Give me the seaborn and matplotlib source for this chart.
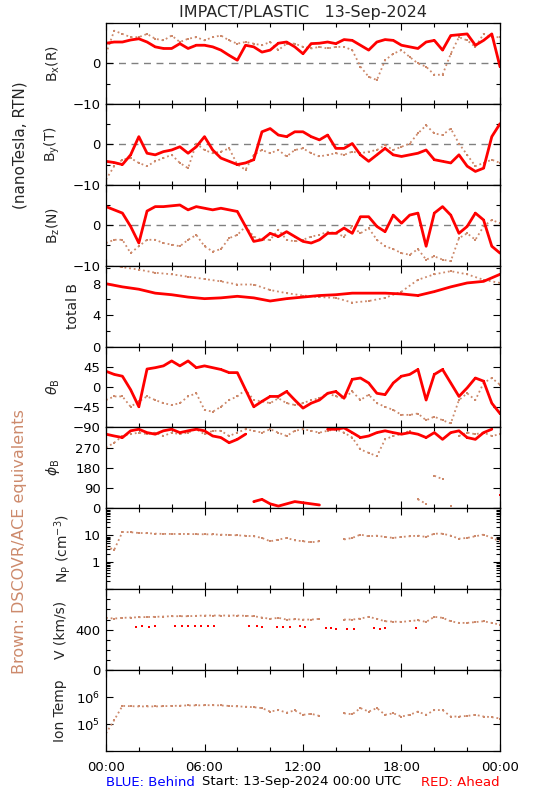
import numpy as np
import pandas as pd
import matplotlib.pyplot as plt
import matplotlib.ticker as mticker
import seaborn as sns

# IMPACT/PLASTIC summary, 13-Sep-2024 (STEREO-A red, DSCOVR/ACE brown)

RED = "#ff0000"
BROWN = "#cd8a6c"

# half-hour time grid (hours since 00:00 UTC)
hours = np.arange(0, 24.5, 0.5)
hours_1h = np.arange(0, 25, 1)

bx_red = [5.0, 5.3, 5.3, 5.8, 6.1, 5.3, 4.1, 3.7, 3.7, 4.9, 3.7, 4.5, 4.5, 4.1, 3.3, 2.0, 0.8,
          4.5, 4.1, 2.8, 3.3, 5.0, 5.3, 4.1, 2.4, 4.9, 5.0, 5.3, 4.9, 5.9, 5.7, 4.5, 3.3, 5.3,
          5.9, 5.7, 4.5, 4.1, 3.7, 5.3, 5.7, 3.3, 6.9, 7.1, 7.3, 4.5, 5.7, 7.3, -0.8]
bx_brown = [2.4, 8.1, 7.3, 6.5, 6.5, 7.3, 6.1, 5.7, 6.9, 5.3, 6.1, 6.5, 5.7, 6.5, 6.9, 5.7, 4.9,
            5.3, 4.9, 4.5, 5.3, 3.3, 4.9, 4.9, 4.1, 3.7, 4.1, 3.7, 4.1, 4.1, 3.3, -0.8, -3.3,
            -4.1, 0.8, 2.4, 3.3, 1.6, 0.0, -0.8, -2.8, -2.8, 2.4, 6.5, 5.7, 4.1, 7.3, 6.5, 6.5]

by_red = [-4.2, -4.5, -5.0, -2.6, 1.9, -2.2, -2.6, -1.8, -1.4, -0.6, -2.2, -0.6, 1.9, -1.4,
          -3.4, -4.2, -5.0, -4.6, -3.8, 3.1, 3.9, 2.3, 1.9, 3.1, 3.1, 1.9, 1.1, 2.3, -1.0, -1.0,
          0.2, -2.6, -4.2, -2.6, -1.0, -2.6, -3.0, -2.6, -2.2, -1.4, -3.8, -4.2, -4.6, -2.6,
          -5.4, -6.7, -5.9, 1.9, 5.1]
by_brown = [-8.7, -5.4, -3.8, -3.4, -4.6, -5.4, -4.2, -3.4, -2.6, -4.6, -5.9, 0.2, -1.4, -2.2,
            -1.8, -1.0, -5.0, -6.3, -2.6, -1.4, -2.2, -1.4, -3.0, -1.4, -1.0, -2.2, -3.0, -2.6,
            -2.2, -2.6, -1.8, -2.2, -1.8, -1.4, -0.2, -1.4, -0.6, 0.2, 2.7, 4.7, 2.7, 2.3, 3.9,
            0.2, -2.6, -5.4, -4.6, -3.8, -4.6]

bz_red = [4.6, 3.8, 3.0, -0.3, -4.4, 3.5, 4.6, 4.6, 4.8, 5.0, 3.8, 4.6, 4.2, 3.8, 4.2, 3.8, 3.4,
          -0.3, -4.0, -3.6, -2.0, -2.8, -1.6, -2.8, -4.0, -4.4, -3.6, -2.0, -2.0, -0.7, -2.0,
          2.1, 2.1, -0.3, -1.6, 2.5, 0.5, 2.5, 3.0, -5.2, 3.0, 4.6, 2.5, -2.0, -0.3, 3.0, 1.3,
          -5.2, -6.9]
bz_brown = [-4.4, -3.6, -3.6, -6.9, -5.2, -3.6, -3.6, -4.4, -4.8, -5.2, -3.6, -2.4, -5.2, -6.5,
            -5.9, -3.2, -2.4, -0.3, -2.8, -3.6, -3.6, -1.1, -3.6, -4.0, -3.6, -2.8, -2.4, -1.6,
            -2.0, -2.8, -0.3, -2.0, -0.7, -3.6, -5.2, -5.9, -6.9, -7.3, -5.9, -8.5, -7.7, -8.5,
            -8.9, -3.2, -2.0, -3.6, -0.3, 1.3, 0.5]

# hourly total field
bt_red = [8.0, 7.6, 7.3, 6.8, 6.6, 6.3, 6.1, 6.2, 6.4, 6.2, 5.8, 6.1, 6.3, 6.5, 6.6, 6.8, 6.8,
          6.8, 6.7, 6.5, 7.0, 7.6, 8.1, 8.3, 9.2]
bt_brown = [10.5, 10.1, 9.8, 9.4, 9.2, 8.9, 8.6, 8.3, 7.9, 7.9, 7.2, 6.8, 6.5, 6.3, 6.2, 5.6,
            5.8, 6.2, 7.0, 8.5, 9.2, 9.6, 9.2, 8.5, 8.1]

theta_red = [35, 28, 24, -6, -44, 40, 43, 47, 58, 47, 58, 43, 47, 43, 39, 32, 32, -6, -44, -32,
             -21, -21, -10, -29, -47, -36, -29, -14, -10, -25, 17, 20, 9, -14, -17, 9, 24, 28,
             39, -29, 28, 39, 9, -21, -2, 20, 13, -36, -59]
theta_brown = [-29, -21, -21, -44, -32, -21, -29, -36, -40, -36, -21, -14, -51, -55, -44, -29,
               -21, -6, -29, -32, -36, -25, -36, -40, -36, -29, -25, -14, -21, -25, -10, -29,
               -17, -36, -44, -51, -62, -62, -59, -74, -66, -74, -81, -29, -14, -29, 9, 20, 5]

phi_red = [330, 322, 315, 345, 352, 337, 330, 345, 352, 337, 345, 352, 345, 322, 315, 292, 307,
           330, 30, 40, 20, 10, 20, 30, 25, 20, 15, 352, 352, 358, 337, 315, 322, 337, 345, 337,
           330, 337, 330, 315, 337, 307, 337, 345, 315, 307, 337, 352, 60]
phi_brown = [270, 292, 322, 330, 337, 330, 337, 322, 337, 330, 337, 352, 330, 345, 345, 322, 337,
             352, 345, 337, 352, 337, 322, 345, 352, 345, 337, 345, 352, 337, 315, 262, 247, 232,
             307, 322, 330, 345, 40, 20, 145, 130, 10, 322, 337, 330, 337, 322, 330]

np_brown = [3.9, 2.9, 13.3, 13.0, 12.2, 12.0, 11.5, 11.3, 11.2, 11.2, 11.2, 11.0, 10.9, 10.8,
            10.6, 10.3, 10.0, 9.6, 9.2, 8.0, 6.0, 6.9, 8.0, 6.5, 6.0, 5.5, 6.0, np.nan, np.nan,
            7.0, 8.0, 10.6, 9.2, 9.7, 8.7, 8.0, 8.7, 9.2, 9.7, 8.7, 11.5, 11.5, 9.7, 7.5, 8.0,
            9.2, 10.6, 8.0, 6.0]

v_brown = [517, 510, 517, 520, 523, 525, 527, 530, 533, 533, 533, 537, 540, 540, 540, 540, 540,
           537, 533, 520, 507, 517, 500, 503, 500, 500, 507, np.nan, np.nan, 500, 500, 510, 527,
           507, 483, 480, 477, 485, 493, 477, 527, 517, 483, 467, 467, 475, 483, 467, 450]
v_red_t = [1.8, 2.2, 2.6, 3.0, 4.2, 4.6, 5.0, 5.4, 5.8, 6.2, 6.6, 8.7, 9.2, 9.5, 10.4, 10.8,
           11.2, 11.8, 12.1, 13.4, 13.7, 14.0, 14.7, 15.1, 16.3, 16.7, 17.0, 18.9]
v_red = [430, 433, 430, 433, 440, 437, 433, 437, 440, 437, 433, 433, 440, 430, 427, 430, 427,
         433, 430, 417, 413, 410, 410, 410, 413, 410, 413, 413]

temp_brown = [4.5e4, 1.4e5, 4.7e5, 4.6e5, 4.5e5, 4.5e5, 4.5e5, 4.6e5, 4.7e5, 4.8e5, 4.9e5, 4.9e5,
              5.0e5, 5.0e5, 4.9e5, 4.7e5, 4.5e5, 4.4e5, 4.2e5, 3.9e5, 2.9e5, 3.3e5, 2.65e5,
              3.2e5, 2.2e5, 2.4e5, 2.0e5, np.nan, np.nan, 2.5e5, 2.3e5, 3.9e5, 2.9e5, 3.9e5,
              2.2e5, 2.5e5, 1.9e5, 2.2e5, 2.9e5, 2.2e5, 3.3e5, 3.3e5, 1.9e5, 1.9e5, 2.0e5,
              2.2e5, 1.9e5, 1.8e5, 1.6e5]


def segments(t, v, wrap=None):
    # split into line pieces at data gaps (and at angle wrap-arounds)
    df = pd.DataFrame({"t": t, "v": v})
    brk = df["v"].isna()
    if wrap is not None:
        brk = brk | (df["v"].diff().abs() > wrap)
    df["seg"] = brk.cumsum()
    return df.dropna()


def draw(ax, t, v, color, dotted=False, wrap=None):
    df = segments(t, v, wrap)
    if dotted:
        sns.lineplot(data=df, x="t", y="v", units="seg", estimator=None, color=color, ax=ax,
                     lw=1.3, linestyle=(0, (1, 1.6)), marker="s", markersize=1.6,
                     markeredgewidth=0, sort=False)
    else:
        sns.lineplot(data=df, x="t", y="v", units="seg", estimator=None, color=color, ax=ax,
                     lw=2.0, marker="s", markersize=1.8, markeredgewidth=0, sort=False)


sns.set_theme(style="ticks")
plt.rcParams["font.family"] = ["DejaVu Sans"]
plt.rcParams["font.size"] = 9.5

fig = plt.figure(figsize=(5.5, 8), dpi=100)
W, H = 550.0, 800.0
left, right, top, bottom = 106, 500, 23, 751
ph = (bottom - top) / 9.0

axes = []
for i in range(9):
    y0 = 1 - (top + (i + 1) * ph) / H
    ax = fig.add_axes([left / W, y0, (right - left) / W, ph / H])
    axes.append(ax)

ax_bx, ax_by, ax_bz, ax_bt, ax_th, ax_ph, ax_np, ax_v, ax_t = axes

for ax, red, brown in [(ax_bx, bx_red, bx_brown), (ax_by, by_red, by_brown),
                       (ax_bz, bz_red, bz_brown)]:
    ax.axhline(0, color="#808080", lw=1, ls=(0, (5, 4)), zorder=0)
    draw(ax, hours, brown, BROWN, dotted=True)
    draw(ax, hours, red, RED)
    ax.set_ylim(-10, 10)
    ax.set_yticks([-10, 0, 10])
    ax.set_yticklabels(["\u221210", "0", ""])
    ax.yaxis.set_minor_locator(mticker.FixedLocator([-5, 5]))

draw(ax_bt, hours_1h, bt_brown, BROWN, dotted=True)
draw(ax_bt, hours_1h, bt_red, RED)
ax_bt.set_ylim(0, 10.3)
ax_bt.set_yticks([0, 4, 8])
ax_bt.set_yticklabels(["0", "4", "8"])
ax_bt.yaxis.set_minor_locator(mticker.FixedLocator([2, 6, 10]))

draw(ax_th, hours, theta_brown, BROWN, dotted=True)
draw(ax_th, hours, theta_red, RED)
ax_th.set_ylim(-90, 90)
ax_th.set_yticks([-90, -45, 0, 45, 90])
ax_th.set_yticklabels(["\u221290", "\u221245", "0", "45", ""])

draw(ax_ph, hours, phi_brown, BROWN, dotted=True, wrap=100)
draw(ax_ph, hours, phi_red, RED, wrap=100)
ax_ph.set_ylim(0, 360)
ax_ph.set_yticks([0, 90, 180, 270, 360])
ax_ph.set_yticklabels(["0", "90", "180", "270", ""])

ax_np.set_yscale("log")
draw(ax_np, hours, np_brown, BROWN, dotted=True)
ax_np.set_ylim(0.1, 100)
ax_np.yaxis.set_major_locator(mticker.FixedLocator([0.1, 1, 10, 100]))
ax_np.yaxis.set_major_formatter(mticker.FixedFormatter(["", "1", "10", ""]))
ax_np.yaxis.set_minor_locator(mticker.LogLocator(base=10, subs=np.arange(2, 10)))
ax_np.yaxis.set_minor_formatter(mticker.NullFormatter())

draw(ax_v, hours, v_brown, BROWN, dotted=True)
sns.scatterplot(x=v_red_t, y=v_red, color=RED, marker="s", s=3, linewidth=0, ax=ax_v)
ax_v.set_ylim(0, 800)
ax_v.set_yticks([0, 400, 800])
ax_v.set_yticklabels(["0", "400", ""])
ax_v.yaxis.set_minor_locator(mticker.MultipleLocator(100))

ax_t.set_yscale("log")
draw(ax_t, hours, temp_brown, BROWN, dotted=True)
ax_t.set_ylim(1e4, 1e7)
ax_t.yaxis.set_major_locator(mticker.FixedLocator([1e4, 1e5, 1e6, 1e7]))
ax_t.yaxis.set_major_formatter(mticker.FixedFormatter(["", "$10^5$", "$10^6$", ""]))
ax_t.yaxis.set_minor_locator(mticker.NullLocator())

ylabels = ["B$_\\mathrm{x}$(R)", "B$_\\mathrm{y}$(T)", "B$_\\mathrm{z}$(N)", "total B",
           r"$\theta_\mathrm{B}$", r"$\phi_\mathrm{B}$", r"N$_\mathrm{P}$ (cm$^{-3}$)",
           "V (km/s)", "Ion Temp"]
label_x = [62, 62, 62, 80, 62, 62, 73, 67, 67]

for i, ax in enumerate(axes):
    ax.set_xlim(0, 24)
    ax.set_xticks([0, 6, 12, 18, 24])
    ax.xaxis.set_minor_locator(mticker.MultipleLocator(2))
    ax.tick_params(which="both", direction="in", top=True, right=True, width=0.8,
                   labelsize=9.5, colors="black", pad=4)
    ax.tick_params(which="major", length=5)
    ax.tick_params(which="minor", length=3)
    ax.set_xlabel("")
    ax.set_ylabel(ylabels[i], fontsize=10)
    ax.yaxis.set_label_coords((label_x[i] - left) / (right - left), 0.5)
    for s in ax.spines.values():
        s.set_color("black")
        s.set_linewidth(0.9)
    if i < 8:
        ax.set_xticklabels([])
    else:
        ax.set_xticklabels(["00:00", "06:00", "12:00", "18:00", "00:00"])
        ax.tick_params(axis="x", pad=7)

fig.text((left + right) / 2 / W, 1 - 12 / H, "IMPACT/PLASTIC   13-Sep-2024",
         ha="center", va="center", fontsize=11.5)
fig.text(20 / W, 1 - 145 / H, "(nanoTesla, RTN)", rotation=90, ha="center", va="center",
         fontsize=11)
fig.text(20 / W, 1 - 542 / H, "Brown: DSCOVR/ACE equivalents", rotation=90, ha="center",
         va="center", fontsize=11.5, color=BROWN)
fig.text(left / W, 1 - 782 / H, "BLUE: Behind", color="blue", ha="left", va="center",
         fontsize=9.5)
fig.text(202 / W, 1 - 782 / H, "Start: 13-Sep-2024 00:00 UTC", color="black", ha="left",
         va="center", fontsize=9.5)
fig.text(right / W, 1 - 782 / H, "RED: Ahead", color="red", ha="right", va="center",
         fontsize=9.5)

fig.savefig("out.png", dpi=100, facecolor="white")
